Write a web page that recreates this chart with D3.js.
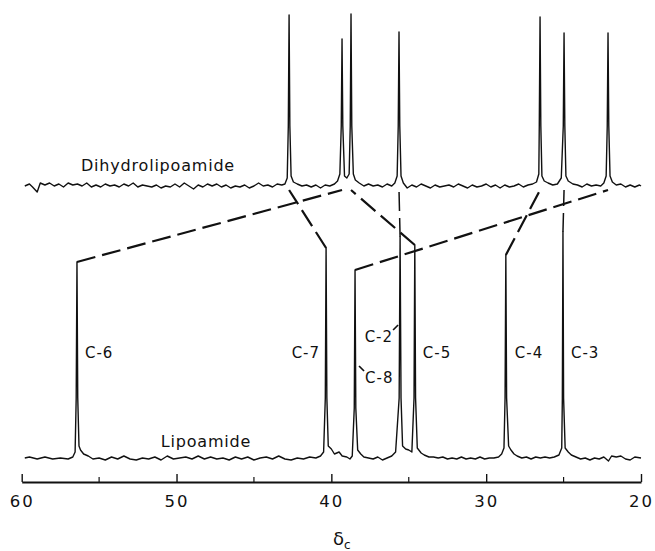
<!DOCTYPE html>
<html>
<head>
<meta charset="utf-8">
<script src="https://cdn.jsdelivr.net/npm/d3@7"></script>
<style>
	body	{ margin: 0; background: #fff; }
	svg	{ display: block; }
	text	{ font-family: "DejaVu Sans", sans-serif; fill: #111; }
</style>
</head>
<body>
<div id="plot"></div>
<script>

///////////////////////////////////////////////////////////////////////
// data: [ ppm, intensity above baseline ]

let lipo_trace = [
	[59.8,0],[59.5,1],[59.0,-1],[58.5,1],[58.0,-1],[57.5,0],[57.0,-1],[56.7,1],[56.55,6],[56.48,60],[56.43,196],[56.38,60],[56.3,12],[56.2,8],[56.0,4],[55.7,2],[55.4,-1],[55.0,0],
	[54.6,-2],[54.2,1],[53.8,-1],[53.4,2],[53.0,-1],[52.6,-2],[52.2,0],[51.8,-1],[51.4,1],[51.0,-2],[50.6,2],[50.2,-1],[49.8,0],[49.4,1],[49.0,-1],[48.6,2],[48.2,-1],[47.8,1],
	[47.4,-1],[47.0,0],[46.6,-2],[46.2,1],[45.8,-1],[45.4,1],[45.0,-2],[44.6,0],[44.2,1],[43.8,-1],[43.4,2],[43.0,-1],[42.6,-2],[42.2,0],[41.8,-1],[41.4,1],[41.0,0],[40.7,2],
	[40.5,6],[40.39,60],[40.34,210],[40.29,60],[40.2,12],[40.0,9],[39.8,4],[39.5,6],[39.3,2],[39.0,1],[38.8,-1],[38.65,2],[38.52,50],[38.47,188],[38.42,50],[38.3,8],[38.1,4],
	[37.9,1],[37.6,0],[37.3,-1],[37.0,1],[36.7,-2],[36.4,0],[36.1,2],[35.85,6],[35.62,60],[35.56,221],[35.5,60],[35.4,12],[35.2,9],[35.0,8],[34.8,6],[34.66,60],[34.61,213],
	[34.56,60],[34.45,10],[34.2,5],[34.0,3],[33.7,1],[33.4,1],[33.1,0],[32.8,1],[32.5,-1],[32.2,0],[31.9,-1],[31.6,1],[31.3,-1],[31.0,0],[30.7,-1],[30.4,1],[30.1,-1],[29.8,0],
	[29.5,0],[29.2,1],[29.0,4],[28.85,10],[28.78,60],[28.73,203],[28.68,60],[28.55,12],[28.4,8],[28.2,4],[28.0,2],[27.7,0],[27.4,1],[27.1,-1],[26.8,1],[26.5,0],[26.2,1],
	[25.9,0],[25.6,1],[25.3,3],[25.12,10],[25.08,60],[25.04,226],[25.0,60],[24.9,10],[24.7,6],[24.5,3],[24.2,1],[23.9,-1],[23.6,0],[23.3,-2],[23.0,0],[22.7,-1],[22.4,1],
	[22.1,-3],[21.9,2],[21.6,1],[21.3,2],[21.0,-1],[20.7,-2],[20.4,1],[20.0,0]
];

let dihydro_trace = [
	[59.8,0],[59.5,2],[59.3,-1],[59.0,-6],[58.8,3],[58.5,1],[58.2,3],[57.9,0],[57.6,2],[57.3,-1],[57.0,3],[56.7,1],[56.4,2],[56.1,0],[55.8,3],[55.5,-1],[55.2,1],[54.9,-1],
	[54.6,2],[54.3,0],[54.0,1],[53.7,-1],[53.4,2],[53.1,0],[52.8,3],[52.5,-1],[52.2,1],[51.9,0],[51.6,-1],[51.3,1],[51.0,-2],[50.7,0],[50.4,-1],[50.1,2],[49.8,-1],[49.5,3],
	[49.2,0],[48.9,-3],[48.6,1],[48.3,-1],[48.0,2],[47.7,0],[47.4,2],[47.1,-1],[46.8,1],[46.5,-2],[46.2,0],[45.9,-1],[45.6,1],[45.3,-2],[45.0,0],[44.7,3],[44.4,0],[44.1,1],
	[43.8,-1],[43.5,2],[43.2,1],[43.0,2],[42.85,8],[42.78,60],[42.73,171],[42.68,60],[42.6,10],[42.45,4],[42.2,2],[41.9,0],[41.6,1],[41.3,-1],[41.0,1],[40.7,-2],[40.4,1],
	[40.1,0],[39.8,2],[39.6,5],[39.45,12],[39.36,60],[39.31,147],[39.26,60],[39.15,10],[39.0,8],[38.85,12],[38.78,60],[38.73,172],[38.68,60],[38.58,12],[38.45,6],[38.2,3],
	[37.9,0],[37.6,2],[37.3,0],[37.0,1],[36.7,-1],[36.4,2],[36.1,0],[35.9,3],[35.75,10],[35.68,60],[35.63,154],[35.58,60],[35.5,10],[35.35,3],[35.1,-2],[34.8,1],[34.5,-1],
	[34.2,2],[33.9,0],[33.6,-2],[33.3,1],[33.0,-1],[32.7,0],[32.4,1],[32.1,-1],[31.8,2],[31.5,0],[31.2,-2],[30.9,1],[30.6,-1],[30.3,0],[30.0,2],[29.7,-1],[29.4,1],[29.1,-2],
	[28.8,1],[28.5,-1],[28.2,0],[27.9,2],[27.6,-1],[27.3,1],[27.0,2],[26.75,4],[26.6,12],[26.57,60],[26.52,169],[26.47,60],[26.4,10],[26.25,5],[26.0,3],[25.7,1],[25.4,2],
	[25.15,8],[25.02,60],[24.97,153],[24.92,60],[24.85,10],[24.7,5],[24.4,2],[24.1,1],[23.8,-1],[23.5,2],[23.2,0],[22.9,1],[22.6,0],[22.4,3],[22.25,10],[22.18,60],[22.13,153],
	[22.08,60],[22.0,10],[21.85,4],[21.6,1],[21.3,2],[21.0,-1],[20.7,1],[20.4,-1],[20.1,1],[20.0,0]
];

// lipoamide assignments and the dihydrolipoamide line each one moves to
let peak_labels  = [ "C-6", "C-7", "C-8", "C-2", "C-5", "C-4", "C-3" ];
let peak_ppm     = [ 56.43, 40.34, 38.47, 35.56, 34.61, 28.73, 25.04 ];
let peak_height  = [ 196, 210, 188, 221, 213, 203, 226 ];
let moved_to_ppm = [ 39.31, 42.73, 22.13, 35.63, 38.73, 26.52, 24.97 ];

let major_ticks = [ 60, 50, 40, 30, 20 ];
let minor_ticks = [ 55, 45, 35, 25 ];

///////////////////////////////////////////////////////////////////////

let label_layout = {
	"C-6": { dx:  8, anchor: "start", y: 358 },
	"C-7": { dx: -6, anchor: "end",   y: 358 },
	"C-8": { dx: 10, anchor: "start", y: 383, lead: [ 4, 366, 9, 371 ] },
	"C-2": { dx: -7, anchor: "end",   y: 342, lead: [ -7, 330, -2, 325 ] },
	"C-5": { dx:  8, anchor: "start", y: 358 },
	"C-4": { dx:  9, anchor: "start", y: 358 },
	"C-3": { dx:  8, anchor: "start", y: 358 }
};

function draw_spectra( plot_id )	{

	let width = 655, height = 551;

	let svg = d3.select( "#" + plot_id )
		.append( "svg" )
			.attr( "width", width )
			.attr( "height", height );

	let x = d3.scaleLinear().domain( [ 60, 20 ] ).range( [ 21.7, 641 ] );
	let y_lipo = d3.scaleLinear().domain( [ 0, 100 ] ).range( [ 458, 358 ] );
	let y_dihydro = d3.scaleLinear().domain( [ 0, 100 ] ).range( [ 186, 86 ] );

	let line_lipo = d3.line().x( d => x( d[ 0 ] ) ).y( d => y_lipo( d[ 1 ] ) );
	let line_dihydro = d3.line().x( d => x( d[ 0 ] ) ).y( d => y_dihydro( d[ 1 ] ) );

	// connectors first so the traces sit on top
	let conn = svg.append( "g" )
		.selectAll( "line" )
		.data( peak_labels )
		.join( "line" )
			.attr( "x1", ( d, i ) => x( peak_ppm[ i ] ) )
			.attr( "y1", ( d, i ) => y_lipo( peak_height[ i ] ) )
			.attr( "x2", ( d, i ) => x( moved_to_ppm[ i ] ) )
			.attr( "y2", ( d, i ) => y_dihydro( -4 ) )
			.attr( "stroke", "#111" )
			.attr( "stroke-width", ( d, i ) => Math.abs( peak_ppm[ i ] - moved_to_ppm[ i ] ) < 0.2 ? 1.5 : 2.2 )
			.attr( "stroke-dasharray", "19,7" );

	svg.append( "path" )
		.datum( dihydro_trace )
		.attr( "d", line_dihydro )
		.attr( "fill", "none" )
		.attr( "stroke", "#111" )
		.attr( "stroke-width", 1.4 )
		.attr( "stroke-linejoin", "round" );

	svg.append( "path" )
		.datum( lipo_trace )
		.attr( "d", line_lipo )
		.attr( "fill", "none" )
		.attr( "stroke", "#111" )
		.attr( "stroke-width", 1.4 )
		.attr( "stroke-linejoin", "round" );

	// peak labels
	let g_lab = svg.append( "g" )
		.attr( "font-size", 15 )
		.attr( "letter-spacing", 1 );

	for( let i=0; i< peak_labels.length; i++ )	{

		let L = label_layout[ peak_labels[ i ] ];
		let px = x( peak_ppm[ i ] );

		g_lab.append( "text" )
			.attr( "x", px + L.dx )
			.attr( "y", L.y )
			.attr( "text-anchor", L.anchor )
			.text( peak_labels[ i ] );

		if( L.lead )	{
			g_lab.append( "line" )
				.attr( "x1", px + L.lead[ 0 ] )
				.attr( "y1", L.lead[ 1 ] )
				.attr( "x2", px + L.lead[ 2 ] )
				.attr( "y2", L.lead[ 3 ] )
				.attr( "stroke", "#111" )
				.attr( "stroke-width", 1.6 );
		}
	}

	svg.append( "text" )
		.attr( "x", 158 )
		.attr( "y", 171 )
		.attr( "text-anchor", "middle" )
		.attr( "font-size", 16 )
		.attr( "letter-spacing", 0.8 )
		.text( "Dihydrolipoamide" );

	svg.append( "text" )
		.attr( "x", 206 )
		.attr( "y", 447 )
		.attr( "text-anchor", "middle" )
		.attr( "font-size", 16 )
		.attr( "letter-spacing", 0.8 )
		.text( "Lipoamide" );

	// axis
	let axis_y = 482;

	let g_ax = svg.append( "g" )
		.attr( "transform", "translate(0," + axis_y + ")" )
		.call(
			d3.axisBottom( x )
				.tickValues( major_ticks )
				.tickSize( -8 )
				.tickSizeOuter( 0 )
				.tickPadding( 13 )
				.tickFormat( d3.format( "d" ) )
		);

	g_ax.select( ".domain" ).attr( "stroke-width", 1.8 ).attr( "stroke", "#111" );
	g_ax.selectAll( ".tick line" ).attr( "stroke-width", 1.4 ).attr( "stroke", "#111" );
	g_ax.selectAll( ".tick text" )
		.attr( "font-family", "DejaVu Sans, sans-serif" )
		.attr( "font-size", 16.5 )
		.attr( "letter-spacing", 2 )
		.attr( "fill", "#111" );

	g_ax.append( "g" )
		.selectAll( "line" )
		.data( minor_ticks )
		.join( "line" )
			.attr( "x1", d => x( d ) )
			.attr( "x2", d => x( d ) )
			.attr( "y1", 0 )
			.attr( "y2", -5 )
			.attr( "stroke", "#111" )
			.attr( "stroke-width", 1.2 );

	let t = svg.append( "text" )
		.attr( "x", 333 )
		.attr( "y", 545 )
		.attr( "font-size", 18 );
	t.append( "tspan" ).text( "δ" );
	t.append( "tspan" ).attr( "font-size", 12 ).attr( "dy", 4 ).text( "c" );
}

draw_spectra( "plot" );

</script>
</body>
</html>
